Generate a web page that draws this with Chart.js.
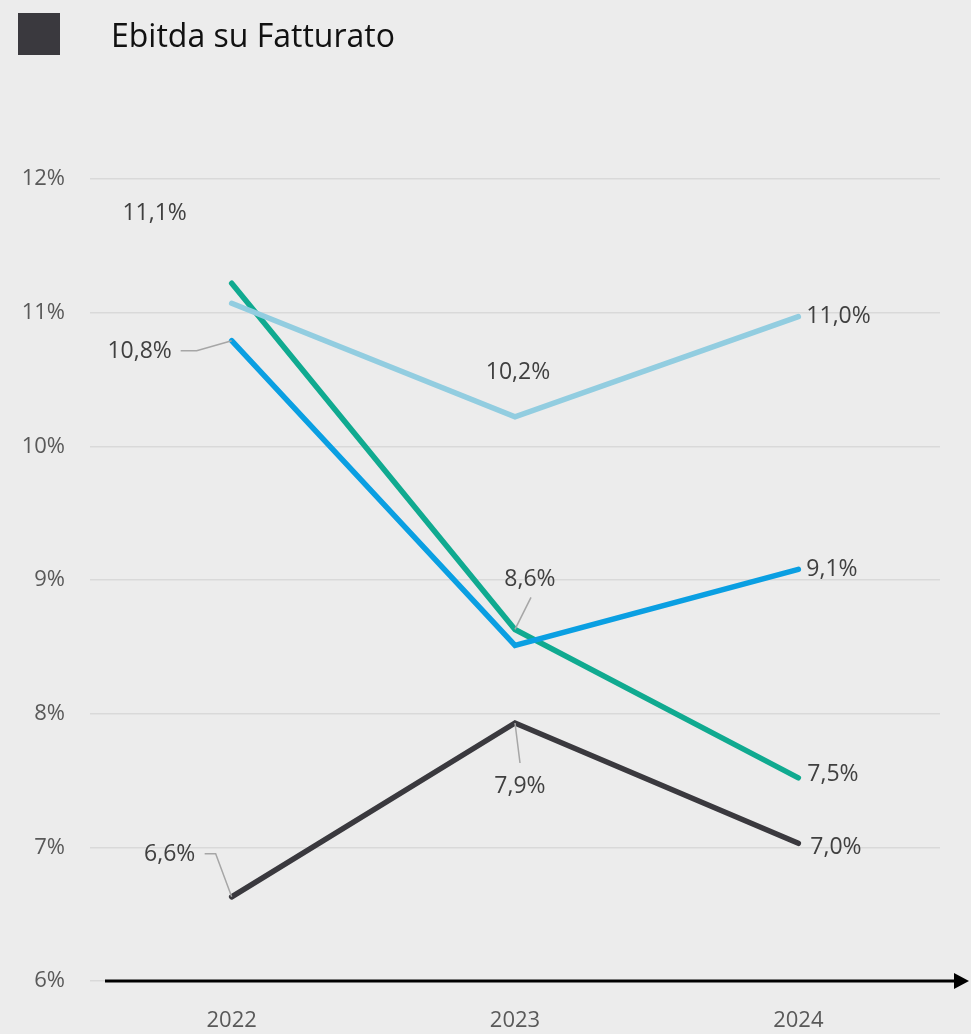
<!DOCTYPE html>
<html>
<head>
<meta charset="utf-8">
<script src="https://cdn.jsdelivr.net/npm/chart.js@4"></script>
<style>
  html, body { margin:0; padding:0; background:#ececec; }
  #wrap { position:relative; width:971px; height:1034px; }
  #sq { position:absolute; left:18px; top:13px; width:42px; height:42px; background:#3a393e; }
  #title { position:absolute; left:111px; top:14px; font-family:"Open Sans", sans-serif; font-size:32px; color:#111; line-height:42px; white-space:nowrap; }
  canvas { position:absolute; left:0; top:0; }
</style>
</head>
<body>
<div id="wrap">
  <canvas id="c" width="971" height="1034"></canvas>
  <div id="sq"></div>
  <div id="title">Ebitda su Fatturato</div>
</div>
<script>
const categories = ['2022', '2023', '2024'];
const seriesLight = [11.07, 10.22, 10.97];
const seriesBlue  = [10.79, 8.51, 9.08];
const seriesGreen = [11.22, 8.63, 7.52];
const seriesDark  = [6.63, 7.93, 7.03];
const yMin = 6, yMax = 12, yStep = 1;

const FONT = '"Open Sans", sans-serif';

function fmt(v) { return v.toFixed(1).replace('.', ',') + '%'; }

const labelPlugin = {
  id: 'labelPlugin',
  afterDatasetsDraw(chart) {
    const ctx = chart.ctx;
    chart.data.datasets.forEach((ds, i) => {
      const meta = chart.getDatasetMeta(i);
      const cfg = ds.labelPos || [];
      meta.data.forEach((pt, j) => {
        const c = cfg[j];
        if (!c) return;
        const px = pt.x, py = pt.y;
        if (c.leader) {
          ctx.save();
          ctx.strokeStyle = '#a6a6a6';
          ctx.lineWidth = 1.5;
          ctx.beginPath();
          c.leader.forEach((p, k) => {
            if (k === 0) ctx.moveTo(px + p[0], py + p[1]);
            else ctx.lineTo(px + p[0], py + p[1]);
          });
          ctx.stroke();
          ctx.restore();
        }
        ctx.save();
        ctx.font = '23px ' + FONT;
        ctx.fillStyle = '#404040';
        ctx.textAlign = c.align || 'center';
        ctx.textBaseline = 'middle';
        ctx.fillText(fmt(ds.data[j]), px + c.dx, py + c.dy);
        ctx.restore();
      });
    });
  },
  afterDraw(chart) {
    const ctx = chart.ctx;
    const y = chart.chartArea.bottom;
    ctx.save();
    ctx.strokeStyle = '#000';
    ctx.fillStyle = '#000';
    ctx.lineWidth = 3;
    ctx.beginPath();
    ctx.moveTo(105, y);
    ctx.lineTo(956, y);
    ctx.stroke();
    ctx.beginPath();
    ctx.moveTo(954, y - 8);
    ctx.lineTo(969, y);
    ctx.lineTo(954, y + 8);
    ctx.closePath();
    ctx.fill();
    ctx.restore();
  }
};

const common = { borderWidth: 5.5, pointRadius: 0, pointHoverRadius: 0, borderCapStyle: 'round', borderJoinStyle: 'miter', tension: 0, fill: false };

new Chart(document.getElementById('c'), {
  type: 'line',
  data: {
    labels: categories,
    datasets: [
      Object.assign({ label: 'A', data: seriesLight, borderColor: '#92cde0',
        labelPos: [ {dx:-77, dy:-90}, {dx:3, dy:-44}, {dx:8, dy:0, align:'left'} ] }, common),
      Object.assign({ label: 'B', data: seriesBlue, borderColor: '#0a9fe2',
        labelPos: [ {dx:-92, dy:11, leader:[[-51,10],[-35,10],[0,0]]}, null, {dx:8, dy:0, align:'left'} ] }, common),
      Object.assign({ label: 'C', data: seriesGreen, borderColor: '#10aa90',
        labelPos: [ null, {dx:15, dy:-50, leader:[[16,-32],[0,0]]}, {dx:9, dy:-3, align:'left'} ] }, common),
      Object.assign({ label: 'D', data: seriesDark, borderColor: '#3a393e',
        labelPos: [ {dx:-62, dy:-42, leader:[[-27,-43],[-16,-43],[0,0]]}, {dx:5, dy:63, leader:[[5,40],[0,0]]}, {dx:12, dy:4, align:'left'} ] }, common)
    ]
  },
  options: {
    responsive: false,
    animation: false,
    clip: false,
    layout: { padding: { top: 179, right: 31, bottom: 0, left: 0 } },
    plugins: { legend: { display: false }, tooltip: { enabled: false }, title: { display: false } },
    scales: {
      x: {
        offset: true,
        grid: { display: false },
        border: { display: false },
        ticks: { color: '#595959', font: { family: FONT, size: 22 }, padding: 19 },
        afterFit(s) { s.height = 53; }
      },
      y: {
        min: yMin, max: yMax,
        grid: { color: '#d9d9d9', lineWidth: 1.5, drawTicks: false },
        border: { display: false },
        ticks: { stepSize: yStep, color: '#595959', font: { family: FONT, size: 22 }, padding: 25,
          callback: v => v + '%' },
        afterFit(s) { s.width = 90; }
      }
    }
  },
  plugins: [labelPlugin]
});
</script>
</body>
</html>
